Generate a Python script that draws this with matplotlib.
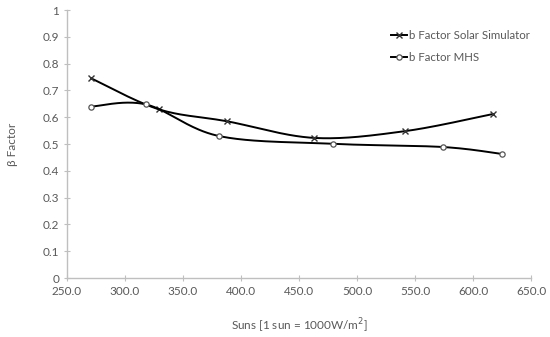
import numpy as np
import matplotlib
matplotlib.use('Agg')
import matplotlib.pyplot as plt

# Data
suns_solar = [271.0, 329.0, 388.0, 463.0, 541.0, 617.0]
beta_solar = [0.745, 0.630, 0.585, 0.523, 0.548, 0.612]

suns_mhs = [271.0, 318.0, 381.0, 479.0, 574.0, 625.0]
beta_mhs = [0.640, 0.648, 0.530, 0.501, 0.489, 0.463]

x_ticks = [250, 300, 350, 400, 450, 500, 550, 600, 650]
y_ticks = [0, 0.1, 0.2, 0.3, 0.4, 0.5, 0.6, 0.7, 0.8, 0.9, 1]


def smooth(x, y, n=40):
    """
    Excel-like smoothed line: cubic Bezier through the points with
    Catmull-Rom control points.
    """
    p = np.column_stack([x, y]).astype(float)
    pts = np.vstack([p[0], p, p[-1]])
    out = []
    t = np.linspace(0, 1, n)[:, None]
    for i in range(1, len(pts) - 2):
        p0, p1, p2, p3 = pts[i - 1], pts[i], pts[i + 1], pts[i + 2]
        c1 = p1 + (p2 - p0) / 6.0
        c2 = p2 - (p3 - p1) / 6.0
        seg = ((1 - t) ** 3) * p1 + 3 * ((1 - t) ** 2) * t * c1 \
            + 3 * (1 - t) * t ** 2 * c2 + t ** 3 * p2
        out.append(seg)
    seg = np.vstack(out)
    return seg[:, 0], seg[:, 1]


def main():
    plt.rcParams['font.family'] = ['Lato', 'DejaVu Sans']
    fig = plt.figure(figsize=(5.5, 3.37), dpi=100)
    ax = fig.add_axes([0.1218, 0.175, 0.8437, 0.795])

    gray = '#bfbfbf'
    text_col = '#595959'

    sx, sy = smooth(suns_solar, beta_solar)
    ax.plot(sx, sy, color='black', lw=1.4)
    ax.plot(suns_solar, beta_solar, ls='none', marker='x', ms=4.5,
            mec='#333333', mew=1.0)

    mx, my = smooth(suns_mhs, beta_mhs)
    ax.plot(mx, my, color='black', lw=1.4)
    ax.plot(suns_mhs, beta_mhs, ls='none', marker='o', ms=3.8,
            mfc='white', mec='#555555', mew=0.9)

    # legend handles
    h1, = ax.plot([], [], color='black', lw=1.4, marker='x', ms=4.5,
                  mec='#333333', mew=1.0)
    h2, = ax.plot([], [], color='black', lw=1.4, marker='o', ms=3.8,
                  mfc='white', mec='#555555', mew=0.9)
    ax.legend([h1, h2], ['b Factor Solar Simulator', 'b Factor MHS'],
              loc='upper left', bbox_to_anchor=(0.675, 0.965),
              frameon=False, fontsize=8.3, handlelength=1.4,
              handletextpad=0.2, labelspacing=0.95, labelcolor=text_col)

    ax.set_xlim(250, 650)
    ax.set_ylim(0, 1)
    ax.set_xticks(x_ticks)
    ax.set_xticklabels(['{:.1f}'.format(v) for v in x_ticks])
    ax.set_yticks(y_ticks)
    ax.set_yticklabels(['{:g}'.format(v) for v in y_ticks])

    for s in ['top', 'right']:
        ax.spines[s].set_visible(False)
    for s in ['left', 'bottom']:
        ax.spines[s].set_color(gray)
        ax.spines[s].set_linewidth(1.0)
    ax.tick_params(direction='inout', length=5, width=0.8, color=gray,
                   labelcolor=text_col, labelsize=8.5, pad=3)

    ax.set_xlabel('Suns [1 sun = 1000W/m$^2$]', color=text_col, fontsize=8.5,
                  labelpad=14)
    ax.set_ylabel('β Factor', color=text_col, fontsize=8.5, labelpad=18)

    fig.savefig('out.png', dpi=100)


if __name__ == "__main__":
    main()
